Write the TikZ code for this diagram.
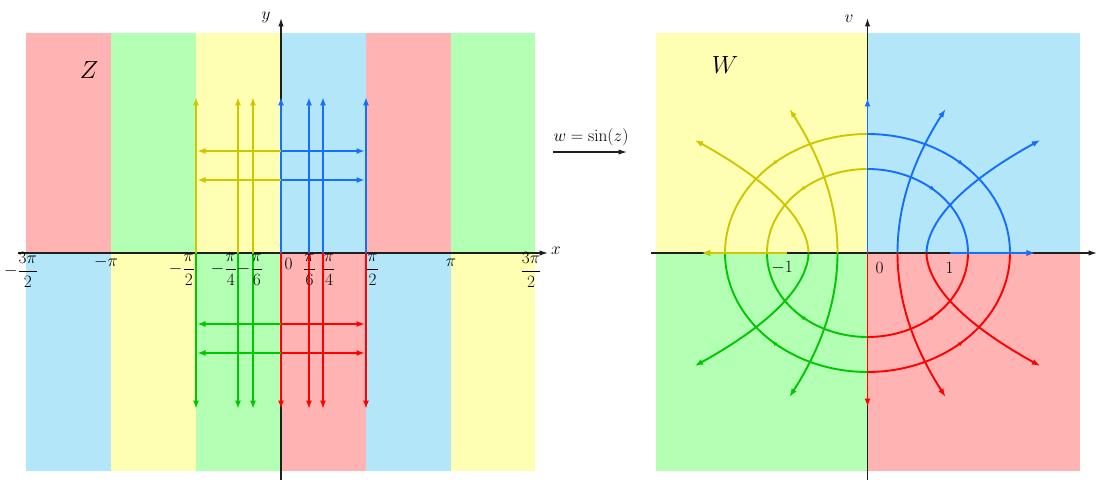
\documentclass[tikz,border=0pt]{standalone}
\usepackage{amsmath}
\usetikzlibrary{arrows.meta,decorations.markings}
\definecolor{bgred}{RGB}{255,179,179}
\definecolor{bggreen}{RGB}{179,255,179}
\definecolor{bgyellow}{RGB}{255,255,179}
\definecolor{bgblue}{RGB}{179,230,249}
\definecolor{lyellow}{RGB}{205,198,0}
\definecolor{lblue}{RGB}{20,110,255}
\definecolor{lgreen}{RGB}{0,200,0}
\definecolor{lred}{RGB}{255,0,0}
\definecolor{axiscol}{RGB}{30,30,30}
\begin{document}
\begin{tikzpicture}[x=1pt,y=-1pt,
  lab/.style={font=\fontsize{16.5}{19}\selectfont, inner sep=0pt},
  axlab/.style={font=\fontsize{17}{20}\selectfont, inner sep=0pt},
  biglab/.style={font=\fontsize{23}{27}\selectfont, inner sep=0pt},
  cline/.style={line width=1.9pt},
  tipA/.style={-{Latex[length=8.5pt,width=6pt]}},
  axisline/.style={line width=1.3pt, draw=axiscol, -{Latex[length=8.5pt,width=5.5pt]}},
  midarrow/.style={postaction={decorate},decoration={markings,mark=at position 0.5 with {\arrow{Latex[length=6pt,width=4.5pt]}}}}]
\useasboundingbox (0,0) rectangle (1100,484);
% ---------- left panel strips
\fill[bgred] (26,33) rectangle (111,253);
\fill[bggreen] (111,33) rectangle (196,253);
\fill[bgyellow] (196,33) rectangle (281,253);
\fill[bgblue] (281,33) rectangle (366,253);
\fill[bgred] (366,33) rectangle (451,253);
\fill[bggreen] (451,33) rectangle (535,253);
\fill[bgblue] (26,253) rectangle (111,471);
\fill[bgyellow] (111,253) rectangle (196,471);
\fill[bggreen] (196,253) rectangle (281,471);
\fill[bgred] (281,253) rectangle (366,471);
\fill[bgblue] (366,253) rectangle (451,471);
\fill[bgyellow] (451,253) rectangle (535,471);
% axes left
\coordinate (xL) at (18,253);
\coordinate (xR) at (548,253);
\coordinate (yB) at (281,480);
\coordinate (yT) at (281,18);
\draw[axisline] (xL) -- (xR);
\draw[axisline] (yB) -- (yT);
% vertical lines
\foreach \x in {196,238,253} {
  \draw[cline,lyellow,tipA] (\x,253) -- (\x,97);
  \draw[cline,lgreen,tipA] (\x,253) -- (\x,409);
}
\foreach \x in {281,309,323,366} {
  \draw[cline,lblue,tipA] (\x,253) -- (\x,97);
  \draw[cline,lred,tipA] (\x,253) -- (\x,409);
}
% horizontal lines
\foreach \y in {151,180} {
  \draw[cline,lyellow,tipA] (281,\y) -- (197,\y);
  \draw[cline,lblue,tipA] (281,\y) -- (365,\y);
}
\foreach \y in {324,353} {
  \draw[cline,lgreen,tipA] (281,\y) -- (197,\y);
  \draw[cline,lred,tipA] (281,\y) -- (365,\y);
}
% labels left
\node[lab] (tA) at (21,270) {$-\dfrac{3\pi}{2}$};
\node[lab] (tB) at (106,262) {$-\pi$};
\node[lab] (tC) at (182,270) {$-\dfrac{\pi}{2}$};
\node[lab] (tD) at (224,270) {$-\dfrac{\pi}{4}$};
\node[lab] (tE) at (250,270) {$-\dfrac{\pi}{6}$};
\node[lab] (tF) at (288.5,264) {$0$};
\node[lab] (tG) at (309.5,270) {$\dfrac{\pi}{6}$};
\node[lab] (tH) at (329,270) {$\dfrac{\pi}{4}$};
\node[lab] (tI) at (372.5,270) {$\dfrac{\pi}{2}$};
\node[lab] (tJ) at (451,263) {$\pi$};
\node[lab] (tK) at (531,270) {$\dfrac{3\pi}{2}$};
\node[axlab] (lx) at (556,251) {$x$};
\node[axlab] (ly) at (266,17) {$y$};
\node[biglab] (lZ) at (89,70) {$Z$};
% ---------- mapping arrow
\node[font=\fontsize{18}{21}\selectfont, inner sep=0pt] (wlab) at (591,137) {$w=\sin(z)$};
\coordinate (mA) at (553,152);
\coordinate (mB) at (627,152);
\draw[line width=1.3pt, axiscol, -{Latex[length=8.5pt,width=5.5pt]}] (mA) -- (mB);
% ---------- right panel
\fill[bgyellow] (656,33) rectangle (867.5,253);
\fill[bgblue] (867.5,33) rectangle (1080,253);
\fill[bggreen] (656,253) rectangle (867.5,471);
\fill[bgred] (867.5,253) rectangle (1080,471);
\begin{scope}[shift={(867.5,253)}, yscale=-1]
  \coordinate (uL) at (-216.5,0);
  \coordinate (uR) at (229.5,0);
  \coordinate (vB) at (0,-227);
  \coordinate (vT) at (0,235);
  \draw[axisline] (uL) -- (uR);
  \draw[axisline] (vB) -- (vT);
  % ellipses
  \foreach \a/\b in {100.5/84, 142.5/119} {
    \draw[cline,lblue,midarrow] plot[domain=0:90,samples=50] ({\a*cos(90-\x)},{\b*sin(90-\x)});
    \draw[cline,lyellow,midarrow] plot[domain=0:90,samples=50] ({-\a*cos(90-\x)},{\b*sin(90-\x)});
    \draw[cline,lred,midarrow] plot[domain=0:90,samples=50] ({\a*cos(90-\x)},{-\b*sin(90-\x)});
    \draw[cline,lgreen,midarrow] plot[domain=0:90,samples=50] ({-\a*cos(90-\x)},{-\b*sin(90-\x)});
  }
  % x = pi/6
  \draw[cline,lblue,tipA] plot[domain=0:144,samples=40] ({30+0.00232*\x*\x},{\x});
  \draw[cline,lred,tipA] plot[domain=0:144,samples=40] ({30+0.00232*\x*\x},{-\x});
  \draw[cline,lyellow,tipA] plot[domain=0:144,samples=40] ({-30-0.00232*\x*\x},{\x});
  \draw[cline,lgreen,tipA] plot[domain=0:144,samples=40] ({-30-0.00232*\x*\x},{-\x});
  % x = pi/4
  \draw[cline,lblue,tipA] plot[domain=0.5:113,samples=40] ({59+0.019*(\x)^1.84},{\x});
  \draw[cline,lred,tipA] plot[domain=0.5:113,samples=40] ({59+0.019*(\x)^1.84},{-\x});
  \draw[cline,lyellow,tipA] plot[domain=0.5:113,samples=40] ({-59-0.019*(\x)^1.84},{\x});
  \draw[cline,lgreen,tipA] plot[domain=0.5:113,samples=40] ({-59-0.019*(\x)^1.84},{-\x});
  % axis images
  \coordinate (O) at (0,0);
  \coordinate (pT) at (0,155);
  \coordinate (pB) at (0,-154);
  \coordinate (r1) at (82.5,0);
  \coordinate (r2) at (167.5,0);
  \coordinate (l1) at (-81,0);
  \coordinate (l2) at (-166,0);
  \draw[cline,lblue,tipA] (O) -- (pT);
  \draw[cline,lred,tipA] (O) -- (pB);
  \draw[cline,lred,tipA] (r1) -- (r2);
  \draw[cline,lblue,tipA] (r1) -- (r2);
  \draw[cline,lgreen,tipA] (l1) -- (l2);
  \draw[cline,lyellow,tipA] (l1) -- (l2);
\end{scope}
\node[lab] (w0) at (879.5,267.5) {$0$};
\node[lab] (w1) at (949.5,267.5) {$1$};
\node[lab] (wm1) at (782,267.5) {$-1$};
\node[axlab] (lv) at (849,19) {$v$};
\node[biglab] (lW) at (725,65) {$W$};
\end{tikzpicture}
\end{document}
